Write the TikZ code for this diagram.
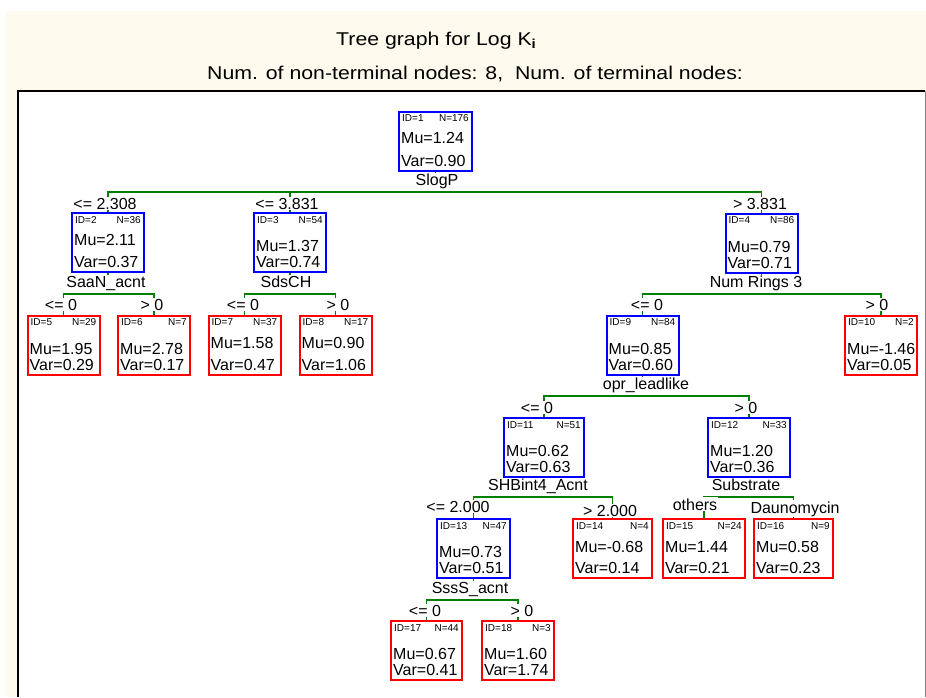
\documentclass[tikz,border=0pt]{standalone}
\usepackage{fontspec}
\setmainfont{Liberation Sans}
\usepackage{xcolor}
\usepackage{tikz}
\definecolor{cream}{RGB}{255,250,238}
\definecolor{splitgreen}{RGB}{0,128,0}
\definecolor{termred}{RGB}{255,0,0}
\definecolor{nodeblue}{RGB}{0,0,255}
\tikzset{
	treebox/.style={draw, line width=2pt, minimum height=59pt, inner sep=0pt},
	smalltxt/.style={font=\fontsize{10}{11}\selectfont, inner sep=0pt},
	valtxt/.style={font=\fontsize{16}{18}\selectfont, inner sep=0pt},
	splitlbl/.style={font=\fontsize{16}{18}\selectfont, fill=white, inner sep=1pt, text height=12pt, text depth=4pt, anchor=south},
	branchlbl/.style={font=\fontsize{16}{18}\selectfont, fill=white, inner sep=1pt, anchor=base},
	headtxt/.style={font=\fontsize{18.5}{20}\selectfont, inner sep=0pt, anchor=base west},
	splitline/.style={draw=splitgreen, line width=1.5pt},
}
\newcommand{\tbox}[9][72]{%
	\node[treebox, draw=#4, minimum width=#1pt] (#2) at (#3) {};
	\node[smalltxt, anchor=west] (#2i) at ([xshift=4pt, yshift=-8pt]#2.north west) {ID=#5};
	\node[smalltxt, anchor=east] (#2n) at ([xshift=-4pt, yshift=-8pt]#2.north east) {N=#6};
	\node[valtxt, anchor=west] (#2m) at ([xshift=3pt, yshift=-#9pt]#2.north west) {Mu=#7};
	\node[valtxt, anchor=west] (#2v) at ([xshift=3pt, yshift=-50pt]#2.north west) {Var=#8};
}

\begin{document}
\begin{tikzpicture}[x=1pt, y=-1pt]
		\useasboundingbox (0,0) rectangle (926,697);
		\fill[cream] (6,11) rectangle (926,697);
		\fill[white] (18,91) rectangle (925,697);
		\draw[line width=2pt] (18,697) -- (18,91) -- (925,91);
		\draw[gray] (925,91) -- (925,697);

		\node[headtxt] (title) at (336,45) {\scalebox{1.15}[1]{Tree graph for Log K\textsubscript{\bfseries i}}};
		\node[headtxt] (info) at (207,79) {\scalebox{1.15}[1]{Num. of non-terminal nodes: 8,~ Num. of terminal nodes:}};

		\tbox[73]{n1}{435.5,141}{nodeblue}{1}{176}{1.24}{0.90}{27}
		\tbox{n2}{108,242.5}{nodeblue}{2}{36}{2.11}{0.37}{28}
		\tbox{n3}{290,242.5}{nodeblue}{3}{54}{1.37}{0.74}{34}
		\tbox{n4}{761.5,243}{nodeblue}{4}{86}{0.79}{0.71}{34}
		\tbox{n5}{63.5,345}{termred}{5}{29}{1.95}{0.29}{34}
		\tbox{n6}{154,345}{termred}{6}{7}{2.78}{0.17}{34}
		\tbox{n7}{244.5,345}{termred}{7}{37}{1.58}{0.47}{28}
		\tbox{n8}{335.5,345}{termred}{8}{17}{0.90}{1.06}{28}
		\tbox{n9}{642.5,345}{nodeblue}{9}{84}{0.85}{0.60}{34}
		\tbox{n10}{881,345}{termred}{10}{2}{-1.46}{0.05}{34}
		\tbox[80]{n11}{544,447.5}{nodeblue}{11}{51}{0.62}{0.63}{34}
		\tbox[82]{n12}{749,447.5}{nodeblue}{12}{33}{1.20}{0.36}{34}
		\tbox[73]{n13}{473.5,548.5}{nodeblue}{13}{47}{0.73}{0.51}{34}
		\tbox[79]{n14}{612.5,548.5}{termred}{14}{4}{-0.68}{0.14}{29}
		\tbox[82]{n15}{704,548.5}{termred}{15}{24}{1.44}{0.21}{29}
		\tbox[79]{n16}{793.5,548.5}{termred}{16}{9}{0.58}{0.23}{29}
		\tbox[71]{n17}{426.5,650.5}{termred}{17}{44}{0.67}{0.41}{34}
		\tbox{n18}{518,650.5}{termred}{18}{3}{1.60}{1.74}{34}

		\coordinate (l1) at (435.5,192);
		\coordinate (l2) at (108,294);
		\coordinate (l3) at (290,294);
		\coordinate (l4) at (761.5,294);
		\coordinate (l9) at (642.5,396);
		\coordinate (l11) at (544,497);
		\coordinate (l12) at (749,497);
		\coordinate (l13) at (473.5,600);

		\draw[splitline] (n1.south) -- (l1);
		\draw[splitline] (n2.north) |- (l1) -| (n4.north);
		\draw[splitline] (n3.north) -- (n3 |- l1);
		\draw[splitline] (n2.south) -- (l2);
		\draw[splitline] (n5.north) |- (l2) -| (n6.north);
		\draw[splitline] (n3.south) -- (l3);
		\draw[splitline] (n7.north) |- (l3) -| (n8.north);
		\draw[splitline] (n4.south) -- (l4);
		\draw[splitline] (n9.north) |- (l4) -| (n10.north);
		\draw[splitline] (n9.south) -- (l9);
		\draw[splitline] (n11.north) |- (l9) -| (n12.north);
		\draw[splitline] (n11.south) -- (l11);
		\draw[splitline] (n13.north) |- (l11) -| (n14.north);
		\draw[splitline] (n12.south) -- (l12);
		\draw[splitline] (n15.north) |- (l12) -| (n16.north);
		\draw[splitline] (n13.south) -- (l13);
		\draw[splitline] (n17.north) |- (l13) -| (n18.north);

		\node[splitlbl] (s1) at (437,191) {SlogP};
		\node[splitlbl] (s2) at (106,293) {SaaN\_acnt};
		\node[splitlbl] (s3) at (286,293) {SdsCH};
		\node[splitlbl] (s4) at (756,293) {Num Rings 3};
		\node[splitlbl] (s9) at (646,395) {opr\_leadlike};
		\node[splitlbl] (s11) at (538,496) {SHBint4\_Acnt};
		\node[splitlbl] (s12) at (746,496) {Substrate};
		\node[splitlbl] (s13) at (470,599) {SssS\_acnt};

		\node[branchlbl] (b2) at (105,209) {<= 2.308};
		\node[branchlbl] (b3) at (287,209) {<= 3.831};
		\node[branchlbl] (b4) at (760,209) {> 3.831};
		\node[branchlbl] (b5) at (61,310) {<= 0};
		\node[branchlbl] (b6) at (152,310) {> 0};
		\node[branchlbl] (b7) at (243,310) {<= 0};
		\node[branchlbl] (b8) at (338,310) {> 0};
		\node[branchlbl] (b9) at (647,310) {<= 0};
		\node[branchlbl] (b10) at (877,310) {> 0};
		\node[branchlbl] (b11) at (537,413) {<= 0};
		\node[branchlbl] (b12) at (746,413) {> 0};
		\node[branchlbl] (b13) at (458,512) {<= 2.000};
		\node[branchlbl] (b14) at (610,516) {> 2.000};
		\node[branchlbl] (b15) at (695,510) {others};
		\node[branchlbl] (b16) at (795,513) {Daunomycin};
		\node[branchlbl] (b17) at (425,616) {<= 0};
		\node[branchlbl] (b18) at (522,616) {> 0};
	\end{tikzpicture}
\end{document}
